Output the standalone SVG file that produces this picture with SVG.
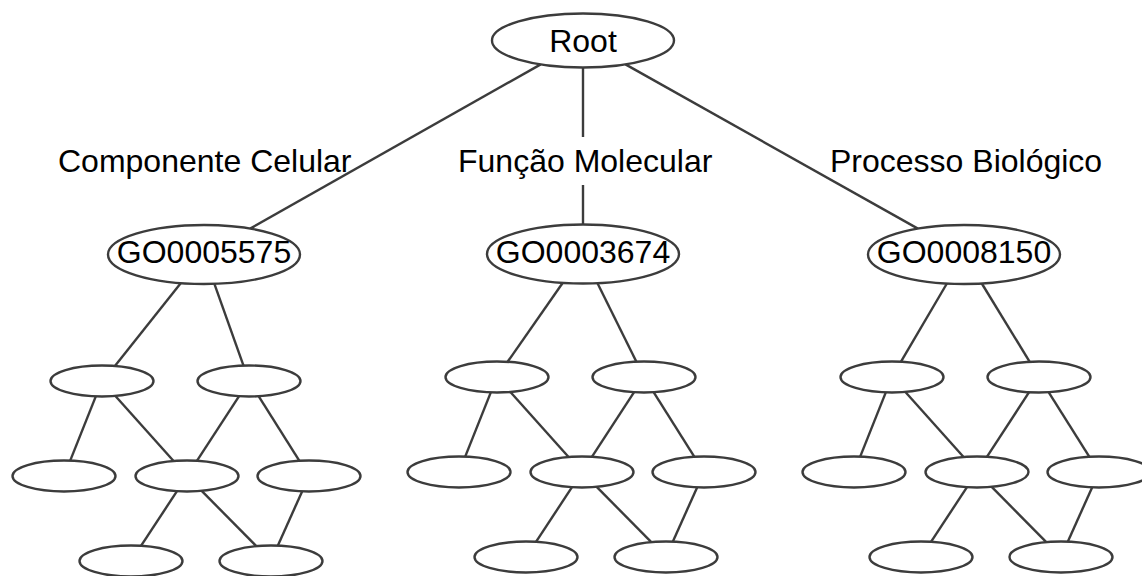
<svg xmlns="http://www.w3.org/2000/svg" width="1142" height="576" viewBox="0 0 1142 576">
<style>
  .n { fill: #ffffff; stroke: #3c3c3c; stroke-width: 2.4; }
  .e { stroke: #3c3c3c; stroke-width: 2.4; fill: none; stroke-linecap: butt; }
  .t { font-family: "Liberation Sans", Arial, sans-serif; font-size: 32px; fill: #000000; }
  .c { text-anchor: middle; }
</style>
<rect x="0" y="0" width="1142" height="576" fill="#ffffff"/>
<g id="connectors">
  <line class="e" x1="540.7" y1="64.4" x2="250.1" y2="228.6"/>
  <line class="e" x1="625.5" y1="64.4" x2="917.9" y2="228.6"/>
  <line class="e" x1="583" y1="67.5" x2="583" y2="137"/>
  <line class="e" x1="583" y1="185" x2="583" y2="224.5"/>
  <line class="e" x1="180.9" y1="283.1" x2="114.9" y2="365.9"/>
  <line class="e" x1="214.4" y1="283.8" x2="243.5" y2="365.6"/>
  <line class="e" x1="562.8" y1="282.8" x2="507.6" y2="361.8"/>
  <line class="e" x1="597.5" y1="283.2" x2="636.4" y2="361.7"/>
  <line class="e" x1="946.9" y1="283.5" x2="901.0" y2="361.7"/>
  <line class="e" x1="981.8" y1="283.5" x2="1029.7" y2="361.8"/>
  <g transform="translate(-395,4)">
    <line class="e" x1="490.8" y1="392.4" x2="465.2" y2="456.6"/>
    <line class="e" x1="510.4" y1="392.0" x2="568.6" y2="457.0"/>
    <line class="e" x1="634.1" y1="392.2" x2="591.9" y2="456.8"/>
    <line class="e" x1="653.6" y1="392.2" x2="694.4" y2="456.8"/>
    <line class="e" x1="572.0" y1="487.2" x2="536.0" y2="541.8"/>
    <line class="e" x1="596.7" y1="486.9" x2="651.3" y2="542.1"/>
    <line class="e" x1="697.1" y1="487.4" x2="672.9" y2="541.6"/>
  </g>
  <g>
    <line class="e" x1="490.8" y1="392.4" x2="465.2" y2="456.6"/>
    <line class="e" x1="510.4" y1="392.0" x2="568.6" y2="457.0"/>
    <line class="e" x1="634.1" y1="392.2" x2="591.9" y2="456.8"/>
    <line class="e" x1="653.6" y1="392.2" x2="694.4" y2="456.8"/>
    <line class="e" x1="572.0" y1="487.2" x2="536.0" y2="541.8"/>
    <line class="e" x1="596.7" y1="486.9" x2="651.3" y2="542.1"/>
    <line class="e" x1="697.1" y1="487.4" x2="672.9" y2="541.6"/>
  </g>
  <g transform="translate(395,0)">
    <line class="e" x1="490.8" y1="392.4" x2="465.2" y2="456.6"/>
    <line class="e" x1="510.4" y1="392.0" x2="568.6" y2="457.0"/>
    <line class="e" x1="634.1" y1="392.2" x2="591.9" y2="456.8"/>
    <line class="e" x1="653.6" y1="392.2" x2="694.4" y2="456.8"/>
    <line class="e" x1="572.0" y1="487.2" x2="536.0" y2="541.8"/>
    <line class="e" x1="596.7" y1="486.9" x2="651.3" y2="542.1"/>
    <line class="e" x1="697.1" y1="487.4" x2="672.9" y2="541.6"/>
  </g>
</g>
<g id="labels">
  <text class="t" x="58" y="172">Componente Celular</text>
  <text class="t" x="458" y="172">Função Molecular</text>
  <text class="t" x="830" y="172">Processo Biológico</text>
</g>
<g id="root">
  <ellipse class="n" cx="583" cy="40.5" rx="91" ry="27"/>
  <text class="t c" x="583" y="52">Root</text>
</g>
<g id="go0005575">
  <ellipse class="n" cx="204" cy="254.5" rx="96" ry="29.5"/>
  <text class="t c" x="204" y="263">GO0005575</text>
</g>
<g id="go0003674">
  <ellipse class="n" cx="583" cy="254" rx="96" ry="29.5"/>
  <text class="t c" x="583" y="263">GO0003674</text>
</g>
<g id="go0008150">
  <ellipse class="n" cx="964" cy="254.5" rx="96" ry="29.5"/>
  <text class="t c" x="964" y="263">GO0008150</text>
</g>
<g id="cc-terms">
  <g id="cc1"><ellipse class="n" cx="102" cy="381" rx="51.5" ry="15.5"/></g>
  <g id="cc2"><ellipse class="n" cx="249" cy="381" rx="51.5" ry="15.5"/></g>
  <g id="cc3"><ellipse class="n" cx="64" cy="476" rx="51.5" ry="15.5"/></g>
  <g id="cc4"><ellipse class="n" cx="187" cy="476" rx="51.5" ry="15.5"/></g>
  <g id="cc5"><ellipse class="n" cx="309" cy="476" rx="51.5" ry="15.5"/></g>
  <g id="cc6"><ellipse class="n" cx="131" cy="561" rx="51.5" ry="15.5"/></g>
  <g id="cc7"><ellipse class="n" cx="271" cy="561" rx="51.5" ry="15.5"/></g>
</g>
<g id="mf-terms">
  <g id="mf1"><ellipse class="n" cx="497" cy="377" rx="51.5" ry="15.5"/></g>
  <g id="mf2"><ellipse class="n" cx="644" cy="377" rx="51.5" ry="15.5"/></g>
  <g id="mf3"><ellipse class="n" cx="459" cy="472" rx="51.5" ry="15.5"/></g>
  <g id="mf4"><ellipse class="n" cx="582" cy="472" rx="51.5" ry="15.5"/></g>
  <g id="mf5"><ellipse class="n" cx="704" cy="472" rx="51.5" ry="15.5"/></g>
  <g id="mf6"><ellipse class="n" cx="526" cy="557" rx="51.5" ry="15.5"/></g>
  <g id="mf7"><ellipse class="n" cx="666" cy="557" rx="51.5" ry="15.5"/></g>
</g>
<g id="bp-terms">
  <g id="bp1"><ellipse class="n" cx="892" cy="377" rx="51.5" ry="15.5"/></g>
  <g id="bp2"><ellipse class="n" cx="1039" cy="377" rx="51.5" ry="15.5"/></g>
  <g id="bp3"><ellipse class="n" cx="854" cy="472" rx="51.5" ry="15.5"/></g>
  <g id="bp4"><ellipse class="n" cx="977" cy="472" rx="51.5" ry="15.5"/></g>
  <g id="bp5"><ellipse class="n" cx="1099" cy="472" rx="51.5" ry="15.5"/></g>
  <g id="bp6"><ellipse class="n" cx="921" cy="557" rx="51.5" ry="15.5"/></g>
  <g id="bp7"><ellipse class="n" cx="1061" cy="557" rx="51.5" ry="15.5"/></g>
</g>
</svg>
